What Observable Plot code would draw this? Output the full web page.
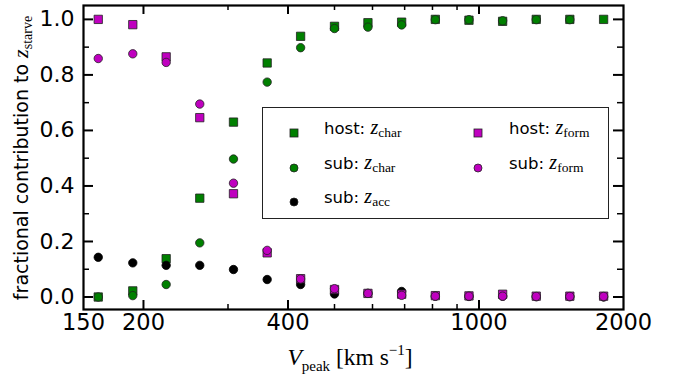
<!DOCTYPE html>
<html><head><meta charset="utf-8">
<script src="https://cdn.jsdelivr.net/npm/d3@7"></script>
<script src="https://cdn.jsdelivr.net/npm/@observablehq/plot@0.6"></script>
<style>
body{margin:0;background:#fff;}
#wrap{position:relative;width:681px;height:382px;overflow:hidden;font-family:"DejaVu Sans";color:#000;}
#wrap svg{position:absolute;left:0;top:0;}
.z{font-family:"Liberation Serif";font-style:italic;}
.ov{position:absolute;white-space:nowrap;line-height:1;}
#legend{position:absolute;left:262px;top:107px;width:345px;height:110px;border:1.5px solid #222;background:#fff;}
.li{position:absolute;font-size:16.5px;white-space:nowrap;line-height:1;transform:translateY(-50%);}
.sw{position:absolute;transform:translate(-50%,-50%);}
.li .z{font-size:20px;}
.li sub{font-size:13.5px;vertical-align:-3px;font-family:"Liberation Serif";}
</style></head><body><div id="wrap"></div>
<script>
// ---- data ----
const vpeak    = [161,190,223,262,308,362,425,500,587,690,811,953,1120,1316,1546,1818];
const hostChar = [0.000,0.022,0.138,0.356,0.630,0.843,0.939,0.975,0.988,0.990,1.000,0.997,0.993,1.000,1.000,1.000];
const subChar  = [0.000,0.005,0.045,0.195,0.497,0.774,0.898,0.967,0.972,0.980,0.999,0.999,0.995,0.999,0.999,null];
const subAcc   = [0.143,0.123,0.114,0.114,0.099,0.063,0.045,0.011,0.013,0.020,0.003,0.002,0.003,0.001,0.001,0.000];
const hostForm = [1.000,0.981,0.865,0.646,0.372,0.159,0.066,0.027,0.013,0.010,0.005,0.004,0.010,0.003,0.003,0.003];
const subForm  = [0.859,0.876,0.845,0.695,0.410,0.168,0.065,0.030,0.013,0.006,0.003,0.003,0.003,0.002,0.002,0.002];
const xTickLabels = [150,200,400,1000,2000];
const xMajor = [200,400,1000];
const xMinor = [300,500,600,700,800,900];
const yMajor = [0,0.2,0.4,0.6,0.8,1.0];
const yMinor = [0.1,0.3,0.5,0.7,0.9];

const W=681,H=382,mt=5,mb=73,ml=83,mr=58;
const ih=H-mt-mb, iw=W-ml-mr;
const green="#008000", mag="#bf00bf";
const rows=(arr)=>vpeak.map((v,i)=>({v,y:arr[i]})).filter(d=>d.y!=null);
const sq=4.7, rc=4.2, sw=0.8;

const plot = Plot.plot({
  width:W,height:H,marginTop:mt,marginBottom:mb,marginLeft:ml,marginRight:mr,
  style:{fontFamily:"DejaVu Sans",fontSize:"22px",background:"transparent",color:"#000"},
  x:{type:"log",domain:[150,2000]},
  y:{domain:[-0.045,1.05]},
  marks:[
    Plot.axisX({ticks:xTickLabels,tickSize:0,tickPadding:5,tickFormat:d=>String(d),fontSize:22.5,label:null}),
    Plot.axisY({ticks:yMajor,tickSize:0,tickPadding:9,tickFormat:d=>d.toFixed(1),fontSize:22,label:null}),
    // inward ticks, bottom & top
    Plot.tickX(xMajor,{x:d=>d,insetTop:ih-9,strokeWidth:2,stroke:"#000"}),
    Plot.tickX(xMinor,{x:d=>d,insetTop:ih-5,strokeWidth:1.5,stroke:"#000"}),
    Plot.tickX(xMajor,{x:d=>d,insetBottom:ih-9,strokeWidth:2,stroke:"#000"}),
    Plot.tickX(xMinor,{x:d=>d,insetBottom:ih-5,strokeWidth:1.5,stroke:"#000"}),
    // inward ticks, left & right
    Plot.tickY(yMajor,{y:d=>d,insetRight:iw-10,strokeWidth:2,stroke:"#000"}),
    Plot.tickY(yMinor,{y:d=>d,insetRight:iw-6,strokeWidth:1.5,stroke:"#000"}),
    Plot.tickY(yMajor,{y:d=>d,insetLeft:iw-10,strokeWidth:2,stroke:"#000"}),
    Plot.tickY(yMinor,{y:d=>d,insetLeft:iw-6,strokeWidth:1.5,stroke:"#000"}),
    // series
    Plot.dot(rows(hostChar),{x:"v",y:"y",symbol:"square",r:sq,fill:green,stroke:"#222",strokeWidth:sw}),
    Plot.dot(rows(subChar),{x:"v",y:"y",symbol:"circle",r:rc,fill:green,stroke:"#222",strokeWidth:sw}),
    Plot.dot(rows(subAcc),{x:"v",y:"y",symbol:"circle",r:rc,fill:"#000",stroke:"#000",strokeWidth:sw}),
    Plot.dot(rows(hostForm),{x:"v",y:"y",symbol:"square",r:sq,fill:mag,stroke:"#222",strokeWidth:sw}),
    Plot.dot(rows(subForm),{x:"v",y:"y",symbol:"circle",r:rc,fill:mag,stroke:"#222",strokeWidth:sw}),
    Plot.frame({stroke:"#000",strokeWidth:2.2})
  ]
});
const wrap=document.getElementById("wrap");
wrap.appendChild(plot);

// axis titles
const xl=document.createElement("div");
xl.className="ov";
xl.style.cssText="left:350px;top:343px;transform:translateX(-50%);font-size:23.5px;font-family:'Liberation Serif';";
xl.innerHTML='<span class="z">V</span><sub style="font-size:15px;vertical-align:-6px">peak</sub>&nbsp;[km s<sup style="font-size:15px;vertical-align:10px">\u22121</sup>]';
wrap.appendChild(xl);

const yl=document.createElement("div");
yl.className="ov";
yl.style.cssText="left:22px;top:158px;transform:translate(-50%,-50%) rotate(-90deg);font-size:19px;";
yl.innerHTML='fractional contribution to <span class="z" style="font-size:22px">z</span><sub style="font-size:14px;font-family:\'Liberation Serif\';vertical-align:-4px">starve</sub>';
wrap.appendChild(yl);

// legend
const legendItems=[
  {label:"host: ",sub:"char",fill:green,shape:"square",col:0,row:0},
  {label:"sub: ",sub:"char",fill:green,shape:"circle",col:0,row:1},
  {label:"sub: ",sub:"acc",fill:"#000",shape:"circle",col:0,row:2},
  {label:"host: ",sub:"form",fill:mag,shape:"square",col:1,row:0},
  {label:"sub: ",sub:"form",fill:mag,shape:"circle",col:1,row:1}
];
const lg=document.createElement("div");lg.id="legend";wrap.appendChild(lg);
const colX=[[26,61],[210,246]], rowY=[19.5,54.5,88.5];
legendItems.forEach(it=>{
  const s=document.createElement("div");s.className="sw";
  s.style.left=colX[it.col][0]+"px";s.style.top=rowY[it.row]+"px";
  s.innerHTML = it.shape==="square"
    ? `<svg width="10" height="10" style="display:block"><rect x="1" y="1" width="8" height="8" fill="${it.fill}" stroke="#222" stroke-width="0.8"/></svg>`
    : `<svg width="10" height="10" style="display:block"><circle cx="5" cy="5" r="4" fill="${it.fill}" stroke="#222" stroke-width="0.8"/></svg>`;
  lg.appendChild(s);
  const t=document.createElement("div");t.className="li";
  t.style.left=colX[it.col][1]+"px";t.style.top=rowY[it.row]+"px";
  t.innerHTML=`${it.label}<span class="z">z</span><sub>${it.sub}</sub>`;
  lg.appendChild(t);
});
</script></body></html>
